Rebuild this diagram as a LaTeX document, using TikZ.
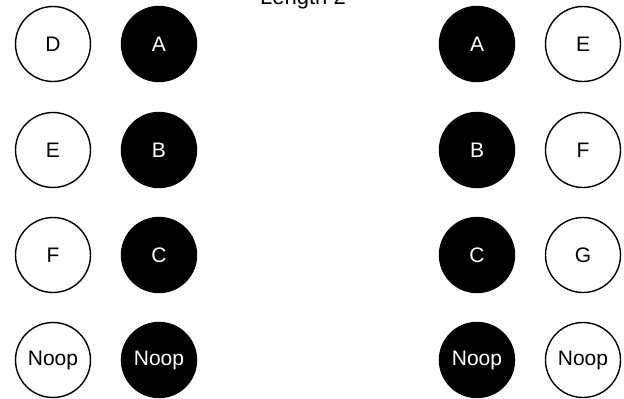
\documentclass[tikz,border=0pt]{standalone}
\usepackage{fontspec}
\setmainfont{Liberation Sans}
\begin{document}
\begin{tikzpicture}[x=1pt,y=-1pt,
  wnode/.style={circle,draw=black,line width=1.4pt,fill=white,minimum size=75pt,inner sep=0pt,font=\fontsize{21}{24}\selectfont},
  bnode/.style={circle,draw=black,line width=1.4pt,fill=black,text=white,minimum size=75pt,inner sep=0pt,font=\fontsize{21}{24}\selectfont}]
\useasboundingbox (0,0) rectangle (624,399);
\node[anchor=base,font=\fontsize{22}{24}\selectfont] (title) at (303,4) {Length 2};
% left column pairs
\node[wnode] (l1) at (53,44) {D};
\node[bnode] (la1) at (159,44) {A};
\node[wnode] (l2) at (53,150) {E};
\node[bnode] (la2) at (159,150) {B};
\node[wnode] (l3) at (53,255) {F};
\node[bnode] (la3) at (159,255) {C};
\node[wnode] (l4) at (53,360) {Noop};
\node[bnode] (la4) at (159,360) {Noop};
% right column pairs
\node[bnode] (ra1) at (477,44) {A};
\node[wnode] (r1) at (583,44) {E};
\node[bnode] (ra2) at (477,150) {B};
\node[wnode] (r2) at (583,150) {F};
\node[bnode] (ra3) at (477,255) {C};
\node[wnode] (r3) at (583,255) {G};
\node[bnode] (ra4) at (477,360) {Noop};
\node[wnode] (r4) at (583,360) {Noop};
\end{tikzpicture}
\end{document}
